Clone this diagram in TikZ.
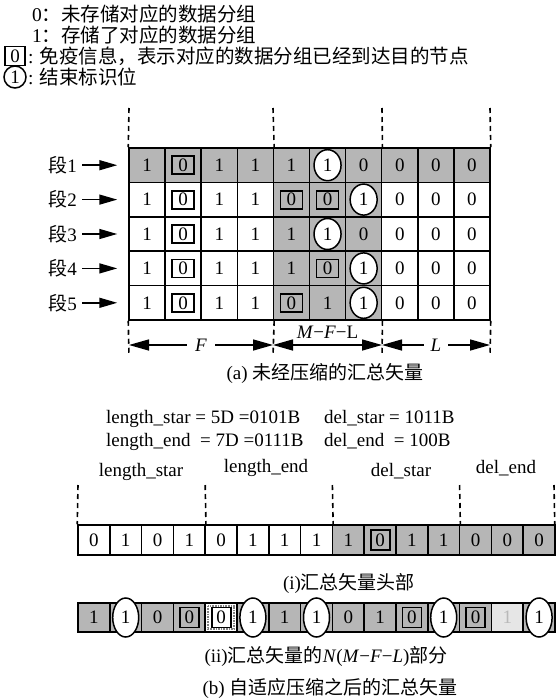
\documentclass[tikz,border=0pt]{standalone}
\usepackage{fontspec}
\setmainfont{Liberation Serif}
\newfontfamily\cjk{Noto Sans CJK SC}
\usetikzlibrary{arrows.meta,shapes.geometric}
\definecolor{cgray}{RGB}{182,182,182}
\definecolor{lgray}{RGB}{230,230,230}
\definecolor{ltext}{RGB}{185,185,185}
\begin{document}
\begin{tikzpicture}[x=1pt,y=-1pt,
 every node/.style={inner sep=0pt, font=\fontsize{19}{22}\selectfont},
 legend/.style={font=\fontsize{19.5}{22}\selectfont},
 acell/.style={draw, line width=1.5pt, minimum width=36.1pt, minimum height=34.4pt},
 hcell/.style={draw, line width=1.5pt, minimum width=31.8pt, minimum height=30pt},
 bcell/.style={draw, line width=1.5pt, minimum width=31.8pt, minimum height=29pt},
 zbox/.style={draw, line width=1.8pt, minimum width=22pt, minimum height=18pt},
 sbox/.style={draw, line width=1.8pt, minimum width=19pt, minimum height=20pt},
 ocirc/.style={ellipse, draw, fill=white, line width=1.5pt, minimum width=27pt, minimum height=31pt},
 tcirc/.style={ellipse, draw, fill=white, line width=1.5pt, minimum width=26pt, minimum height=39pt},
 guide/.style={line width=1.6pt, dash pattern=on 5pt off 4pt},
 dimarrow/.style={line width=1.5pt, {Triangle[length=20pt,width=11pt]}-{Triangle[length=20pt,width=11pt]}},
 segarrow/.style={line width=1.5pt, -{Triangle[length=18pt,width=10pt]}},
]
\useasboundingbox (0,0) rectangle (555,699);

% ---------- legend ----------
\node[zbox, minimum width=20pt, minimum height=19pt] (lgbox) at (15,56) {0};
\node[ellipse, draw, line width=1.5pt, minimum width=22pt, minimum height=22pt] (lgcirc) at (15,77) {1};
\node[legend, anchor=base west] (lg1) at (32,21) {0{\cjk ：未存储对应的数据分组}};
\node[legend, anchor=base west] (lg2) at (32,42) {1{\cjk ：存储了对应的数据分组}};
\node[legend, anchor=base west] (lg3) at (28,63) {:\hspace{6pt}{\cjk 免疫信息，表示对应的数据分组已经到达目的节点}};
\node[legend, anchor=base west] (lg4) at (28,84) {:\hspace{6pt}{\cjk 结束标识位}};

% ---------- part (a) ----------
\foreach \r/\codes in {1/{1,2,1,1,1,3,0,0,0,0},2/{1,2,1,1,2,2,3,0,0,0},3/{1,2,1,1,1,3,0,0,0,0},4/{1,2,1,1,1,2,3,0,0,0},5/{1,2,1,1,2,1,3,0,0,0}}{
  \foreach \v [count=\c] in \codes {
    \def\fc{white}
    \ifnum\r=1 \def\fc{cgray}\fi
    \ifnum\c>4 \ifnum\c<8 \def\fc{cgray}\fi\fi
    \node[acell, fill=\fc] (a\r-\c) at ({129+(\c-0.5)*36.1},{148+(\r-0.5)*34.4}) {};
  }
}
\foreach \r/\codes in {1/{1,2,1,1,1,3,0,0,0,0},2/{1,2,1,1,2,2,3,0,0,0},3/{1,2,1,1,1,3,0,0,0,0},4/{1,2,1,1,1,2,3,0,0,0},5/{1,2,1,1,2,1,3,0,0,0}}{
  \foreach \v [count=\c] in \codes {
    \def\fc{white}
    \ifnum\r=1 \def\fc{cgray}\fi
    \ifnum\c>4 \ifnum\c<8 \def\fc{cgray}\fi\fi
    \ifcase\v\relax
      \node (at\r-\c) at (a\r-\c) {0};
    \or
      \node (at\r-\c) at (a\r-\c) {1};
    \or
      \node[zbox, fill=\fc] (at\r-\c) at (a\r-\c) {0};
    \or
      \node[ocirc] (at\r-\c) at (a\r-\c) {1};
    \fi
  }
}
% segment labels and arrows
\foreach \r in {1,...,5}{
  \node[anchor=east] (s\r) at (77,{148+(\r-0.5)*34.4}) {{\cjk 段}\r};
  \draw[segarrow] ([xshift=5pt]s\r.east) -- ([xshift=-11pt]a\r-1.west);
}
% guide lines
\foreach \x [count=\i] in {129,273,382,490}{
  \coordinate (gt\i) at (\x,108);
  \coordinate (gb\i) at (\x,356);
}
\draw[guide] (gt1) -- (a1-1.north west);
\draw[guide] (gt2) -- (a1-4.north east);
\draw[guide] (gt3) -- (a1-7.north east);
\draw[guide] (gt4) -- (a1-10.north east);
\draw[guide] (a5-1.south west) -- (gb1);
\draw[guide] (a5-4.south east) -- (gb2);
\draw[guide] (a5-7.south east) -- (gb3);
\draw[guide] (a5-10.south east) -- (gb4);
% dimension arrows
\coordinate (d1) at (129,345);
\coordinate (d2) at (273,345);
\coordinate (d3) at (382,345);
\coordinate (d4) at (490,345);
\draw[dimarrow] (d1) -- (d2) node[midway, fill=white, inner xsep=8pt, inner ysep=2pt] (lF) {\textit{F}};
\draw[dimarrow] (d2) -- (d3);
\node (lMFL) at (327.5,332) {\textit{M}−\textit{F}−L};
\draw[dimarrow] (d3) -- (d4) node[midway, fill=white, inner xsep=7pt, inner ysep=2pt] (lL) {\textit{L}};
\node (capa) at (325,373) {(a) {\cjk 未经压缩的汇总矢量}};

% ---------- part (b) ----------
\node[anchor=base west] (eq1) at (106,423) {length\_star = 5D =0101B};
\node[anchor=base west] (eq2) at (324,423) {del\_star = 1011B};
\node[anchor=base west] (eq3) at (106,446) {length\_end \ = 7D =0111B};
\node[anchor=base west] (eq4) at (324,446) {del\_end \ = 100B};

\node (hl1) at (141,472) {length\_star};
\node (hl2) at (266,468) {length\_end};
\node (hl3) at (401,471) {del\_star};
\node (hl4) at (506,468) {del\_end};

\foreach \v [count=\c] in {0,1,0,1,0,1,1,1,1,2,1,1,0,0,0}{
  \def\fc{white}
  \ifnum\c>8 \def\fc{cgray}\fi
  \node[hcell, fill=\fc] (h\c) at ({78+(\c-0.5)*31.8},540) {};
  \ifcase\v\relax
    \node (ht\c) at (h\c) {0};
  \or
    \node (ht\c) at (h\c) {1};
  \or
    \node[sbox, fill=\fc] (ht\c) at (h\c) {0};
  \fi
}
\foreach \x [count=\i] in {78,205.2,332.4,459.6,554}{
  \coordinate (hg\i) at (\x,485);
}
\draw[guide] (hg1) -- (h1.north west);
\draw[guide] (hg2) -- (h4.north east);
\draw[guide] (hg3) -- (h8.north east);
\draw[guide] (hg4) -- (h12.north east);
\draw[guide] (hg5) -- ([xshift=-1pt]h15.north east);

\node (capi) at (349,583) {(i){\cjk 汇总矢量头部}};

\foreach \v [count=\c] in {1,3,0,2,2,3,1,3,0,1,2,3,2,1,3}{
  \def\fc{cgray}
  \ifnum\c=5 \def\fc{white}\fi
  \ifnum\c=14 \def\fc{lgray}\fi
  \node[bcell, fill=\fc] (b\c) at ({78+(\c-0.5)*31.8},617.5) {};
}
\draw[densely dotted, gray, line width=1.6pt] ([shift={(3.5pt,-3.5pt)}]b5.north west) rectangle ([shift={(-3.5pt,3.5pt)}]b5.south east);
\foreach \v [count=\c] in {1,3,0,2,2,3,1,3,0,1,2,3,2,1,3}{
  \def\fc{cgray}
  \ifnum\c=5 \def\fc{white}\fi
  \ifcase\v\relax
    \node (bt\c) at (b\c) {0};
  \or
    \ifnum\c=14
      \node[text=ltext] (bt\c) at (b\c) {1};
    \else
      \node (bt\c) at (b\c) {1};
    \fi
  \or
    \node[sbox, fill=\fc] (bt\c) at (b\c) {0};
  \or
    \node[tcirc] (bt\c) at (b\c) {1};
  \fi
}

\node (capii) at (326,656) {(ii){\cjk 汇总矢量的}\textit{N}(\textit{M}−\textit{F}−\textit{L}){\cjk 部分}};
\node (capb) at (330,688) {(b) {\cjk 自适应压缩之后的汇总矢量}};
\end{tikzpicture}
\end{document}
